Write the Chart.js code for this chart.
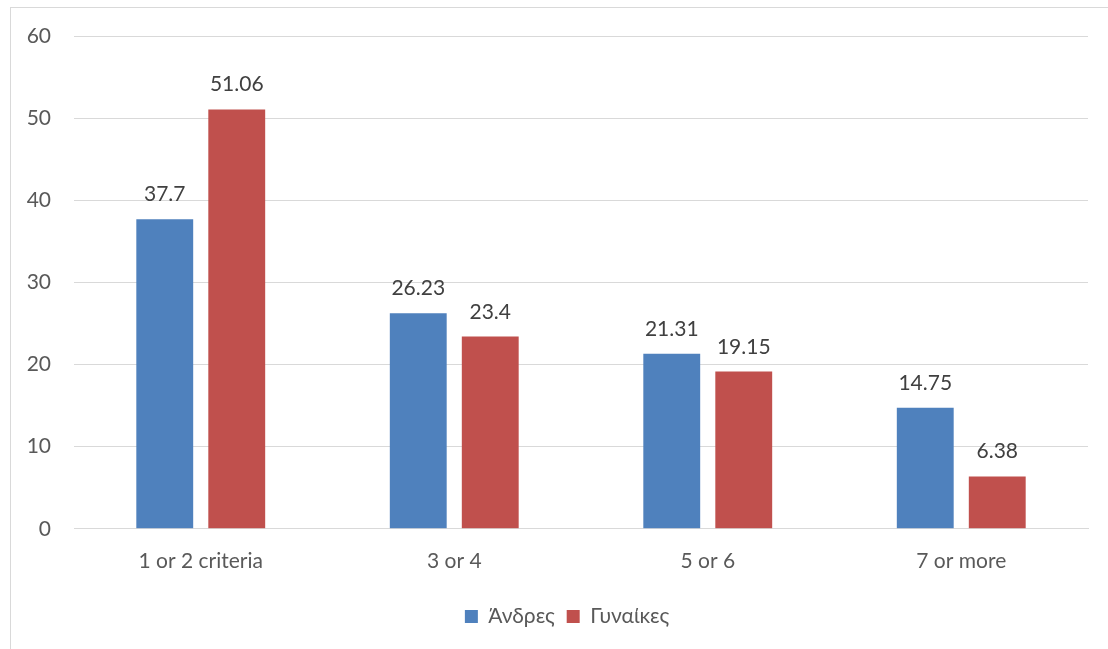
<!DOCTYPE html>
<html>
<head>
<meta charset="utf-8">
<script src="https://cdn.jsdelivr.net/npm/chart.js@4"></script>
<style>
  html, body { margin: 0; padding: 0; background: #fff; overflow: hidden; }
  #frame { position: absolute; left: 10px; top: 7px; width: 1120px; height: 670px; border: 1px solid #d9d9d9; }
  #wrap { position: absolute; left: 0; top: 0; width: 1108px; height: 649px; }
</style>
</head>
<body>
<div id="frame"></div>
<div id="wrap"><canvas id="criteria_canvas"></canvas></div>
<script>
const categories = ['1 or 2 criteria', '3 or 4', '5 or 6', '7 or more'];
const men = [37.7, 26.23, 21.31, 14.75];
const women = [51.06, 23.4, 19.15, 6.38];
const yTicks = [0, 10, 20, 30, 40, 50, 60];

const FONT = 'Lato';
const SIZE = 21;

// draw the value above each bar
const barLabels = {
    id: 'barLabels',
    afterDatasetsDraw(chart) {
        const ctx = chart.ctx;
        ctx.save();
        ctx.font = SIZE + 'px ' + FONT;
        ctx.fillStyle = '#404040';
        ctx.textAlign = 'center';
        ctx.textBaseline = 'alphabetic';
        chart.data.datasets.forEach((ds, i) => {
            chart.getDatasetMeta(i).data.forEach((bar, j) => {
                ctx.fillText(String(ds.data[j]), bar.x, bar.y - 18);
            });
        });
        ctx.restore();
    }
};

// legend sits centred on the frame, not on the canvas
const legendShift = {
    id: 'legendShift',
    afterLayout(chart) {
        chart.legend.left += 23;
        chart.legend.right += 23;
    }
};

const canvas = document.getElementById('criteria_canvas');

new Chart(canvas, {
    type: 'bar',
    data: {
        labels: categories,
        datasets: [{
            label: 'Άνδρες',
            data: men,
            backgroundColor: '#4f81bd',
            categoryPercentage: 0.568,
            barPercentage: 0.79
        }, {
            label: 'Γυναίκες',
            data: women,
            backgroundColor: '#c0504d',
            categoryPercentage: 0.568,
            barPercentage: 0.79
        }]
    },
    options: {
        responsive: true,
        maintainAspectRatio: false,
        animation: false,
        layout: { padding: { left: 0, right: 20, top: 36, bottom: 12 } },
        plugins: {
            tooltip: { enabled: false },
            legend: {
                position: 'bottom',
                labels: {
                    boxWidth: 13,
                    boxHeight: 13,
                    padding: 12,
                    color: '#595959',
                    font: { family: FONT, size: SIZE }
                }
            }
        },
        scales: {
            x: {
                grid: { display: false, drawTicks: false },
                border: { color: '#d9d9d9', width: 1 },
                ticks: { color: '#595959', padding: 20, font: { family: FONT, size: SIZE } }
            },
            y: {
                min: 0,
                max: 60,
                afterFit(scale) { scale.width = 74; },
                afterBuildTicks(scale) { scale.ticks = yTicks.map(v => ({ value: v })); },
                grid: { color: '#d9d9d9', lineWidth: 1, drawTicks: false },
                border: { display: false },
                ticks: { color: '#595959', padding: 23, font: { family: FONT, size: SIZE } }
            }
        }
    },
    plugins: [barLabels, legendShift]
});
</script>
</body>
</html>
